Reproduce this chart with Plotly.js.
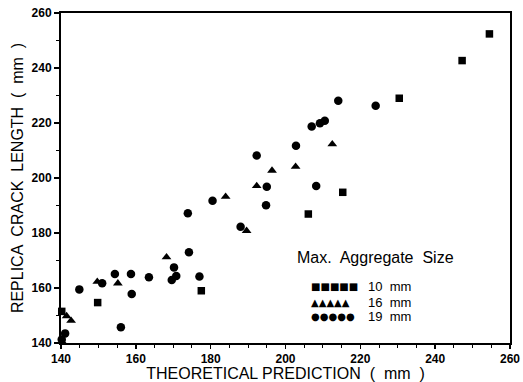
<!DOCTYPE html>
<html><head><meta charset="utf-8">
<script src="https://cdn.plot.ly/plotly-3.0.1.min.js"></script>
<style>body{margin:0;background:#fff}#c{width:523px;height:382px}</style>
</head><body><div id="c"></div>
<script>
const seriesNames = ["10 mm", "16 mm", "19 mm"];
const legendSymbols = ["■■■■■", "▲▲▲▲▲", "●●●●●"];
const x10 = [254.5, 247.2, 230.4, 215.3, 206.1, 177.5, 149.8, 140.2];
const y10 = [252.4, 242.7, 229.0, 194.8, 186.9, 159.0, 154.7, 151.5];
const x16 = [212.5, 202.7, 196.4, 192.3, 184.0, 189.6, 168.2, 155.2, 149.7, 142.7, 141.5, 140.3];
const y16 = [212.3, 204.1, 202.7, 197.1, 193.2, 180.8, 171.2, 161.7, 162.3, 148.1, 149.8, 140.5];
const x19 = [214.1, 224.1, 210.5, 209.2, 207.0, 202.8, 192.3, 195.0, 208.2, 194.8, 188.0, 180.5, 173.9, 174.2, 170.2, 170.8, 169.6, 177.0, 163.5, 158.7, 158.9, 154.4, 151.0, 156.0, 144.9, 141.1, 140.2];
const y19 = [228.1, 226.3, 220.8, 219.9, 218.7, 211.7, 208.2, 196.8, 197.1, 190.1, 182.3, 191.7, 187.2, 173.0, 167.5, 164.4, 162.9, 164.2, 163.9, 165.1, 157.8, 165.1, 161.7, 145.7, 159.5, 143.5, 141.3];
const xTicks = [140, 160, 180, 200, 220, 240, 260];
const yTicks = [140, 160, 180, 200, 220, 240, 260];
const xTitle = 'THEORETICAL PREDICTION  (  mm  )';
const yTitle = 'REPLICA  CRACK  LENGTH  (  mm  )';

const mk = (x, y, sym, sz, name) => ({
  x, y, name, type: 'scatter', mode: 'markers', cliponaxis: false,
  marker: {symbol: sym, size: sz, color: '#000'}
});
const data = [
  mk(x10, y10, 'square', 7.5, seriesNames[0]),
  mk(x16, y16, 'triangle-up', 8.5, seriesNames[1]),
  mk(x19, y19, 'circle', 8.5, seriesNames[2])
];
const fam = 'Liberation Sans, Arial, sans-serif';
const axisBase = {
  range: [140, 260], showgrid: false, zeroline: false,
  showline: true, linecolor: '#000', linewidth: 2, mirror: true,
  ticks: 'outside', ticklen: 5, tickwidth: 1.5, tickcolor: '#000',
  tickmode: 'array',
  tickfont: {family: fam, size: 12, color: '#000', weight: 'bold'}
};
const rowsY = [0.1697, 0.1242, 0.0788];
const ann = [
  {xref: 'paper', yref: 'paper', x: 0.70, y: 0.26, text: 'Max.  Aggregate  Size', showarrow: false,
   font: {family: fam, size: 16, color: '#000'}, xanchor: 'center', yanchor: 'middle'}
];
seriesNames.forEach((n, i) => {
  ann.push({xref: 'paper', yref: 'paper', x: 0.553, y: rowsY[i], text: legendSymbols[i], showarrow: false,
    font: {family: 'DejaVu Sans', size: 10, color: '#000'}, xanchor: 'left', yanchor: 'middle'});
  ann.push({xref: 'paper', yref: 'paper', x: 0.679, y: rowsY[i], text: n.replace(' ', '  '), showarrow: false,
    font: {family: fam, size: 13, color: '#000'}, xanchor: 'left', yanchor: 'middle'});
});
const layout = {
  width: 523, height: 382,
  margin: {l: 61, r: 13, t: 13, b: 39},
  paper_bgcolor: '#fff', plot_bgcolor: '#fff',
  showlegend: false,
  xaxis: Object.assign({}, axisBase, {
    tickvals: xTicks, ticktext: xTicks.map(String), ticklen: 4,
    minor: {dtick: 5, tick0: 140, ticks: 'outside', ticklen: 3, tickcolor: '#000', tickwidth: 1},
    title: {text: xTitle, standoff: 0, font: {family: fam, size: 16, color: '#000'}}
  }),
  yaxis: Object.assign({}, axisBase, {
    tickvals: yTicks, ticktext: yTicks.map(String),
    minor: {dtick: 10, tick0: 140, ticks: 'outside', ticklen: 3, tickcolor: '#000', tickwidth: 1},
    title: {text: yTitle, standoff: 4, font: {family: fam, size: 16, color: '#000'}}
  }),
  annotations: ann
};
Plotly.newPlot('c', data, layout, {staticPlot: true});
</script></body></html>
